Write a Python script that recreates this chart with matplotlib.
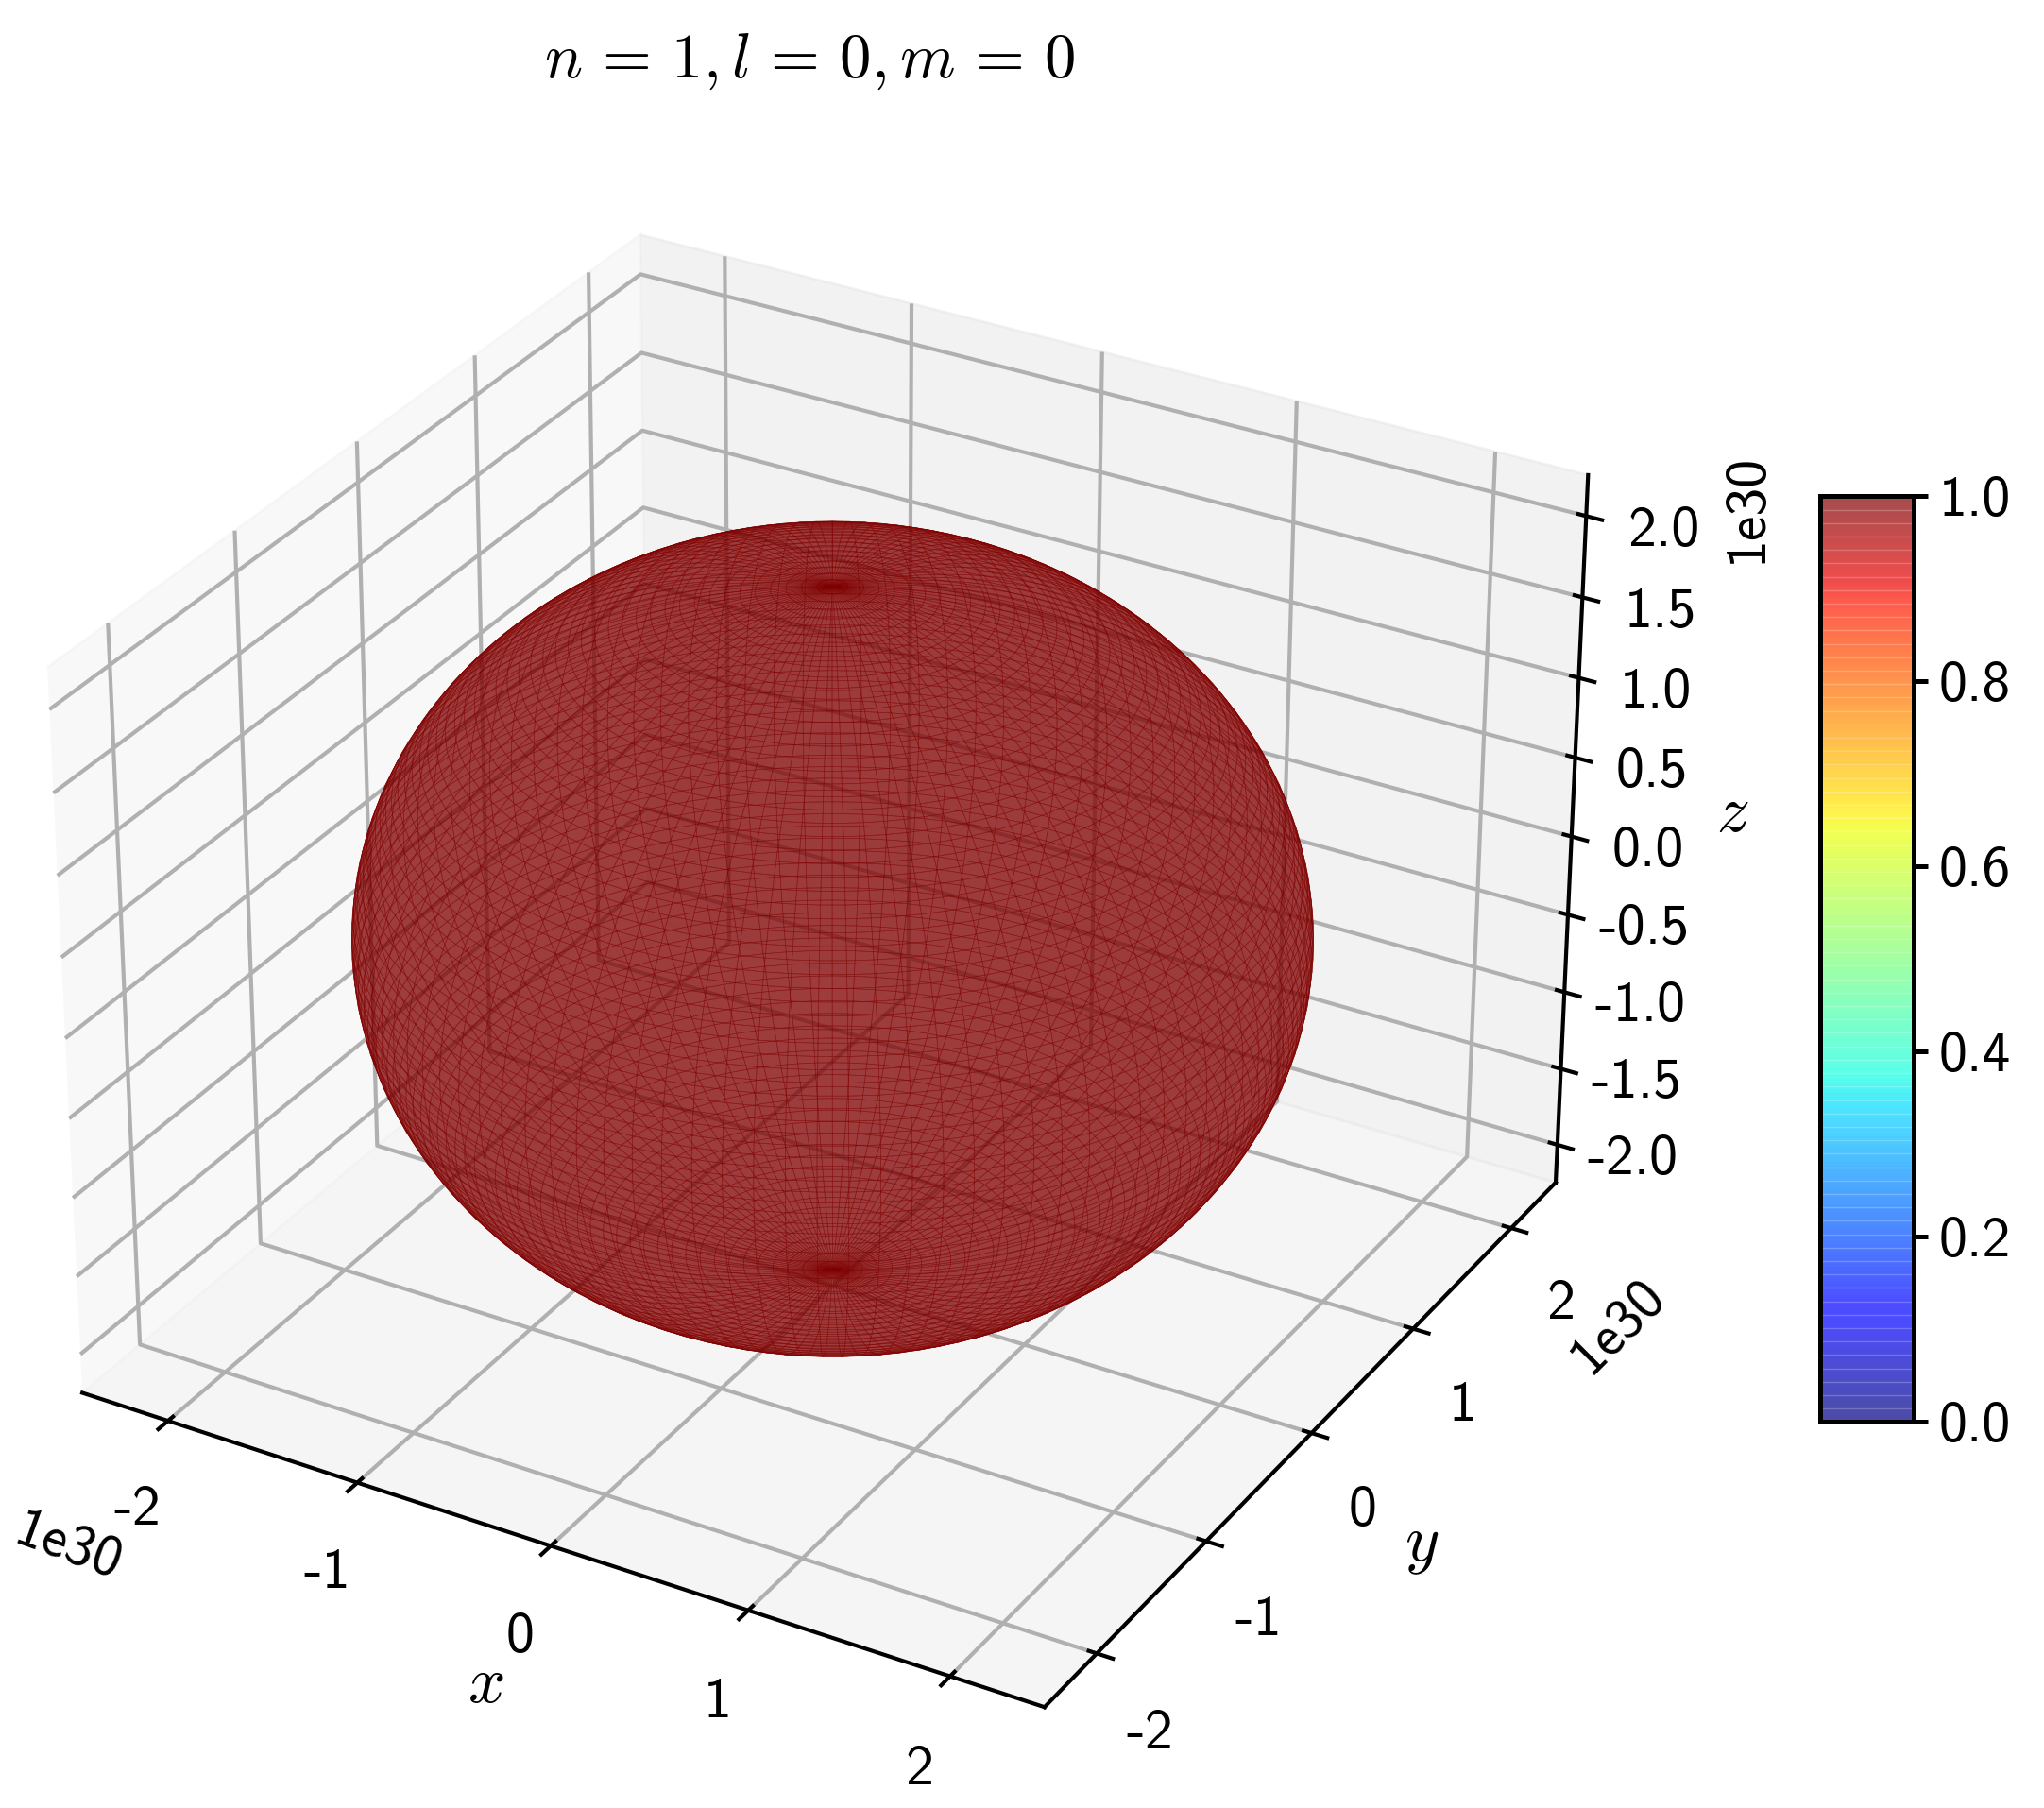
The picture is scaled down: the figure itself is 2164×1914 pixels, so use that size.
import numpy as np
import matplotlib
matplotlib.use("Agg")
import matplotlib.pyplot as plt
from matplotlib import cm
from matplotlib.colors import Normalize

plt.rcParams['font.family'] = ['cmss10', 'DejaVu Sans']
plt.rcParams['mathtext.fontset'] = 'cm'
plt.rcParams['axes.unicode_minus'] = False
plt.rcParams['axes.formatter.use_mathtext'] = False
plt.rcParams['grid.linewidth'] = 1.5
plt.rcParams['axes.linewidth'] = 1.5
plt.rcParams['xtick.major.width'] = 1.5
plt.rcParams['ytick.major.width'] = 1.5

radius = 2.145e30
x_ticks = [-2e30, -1e30, 0, 1e30, 2e30]
y_ticks = [-2e30, -1e30, 0, 1e30, 2e30]
z_ticks = [-2e30, -1.5e30, -1e30, -0.5e30, 0, 0.5e30, 1e30, 1.5e30, 2e30]
xy_labels = ['-2', '-1', '0', '1', '2']
z_labels = ['-2.0', '-1.5', '-1.0', '-0.5', '0.0', '0.5', '1.0', '1.5', '2.0']
cbar_ticks = [0.0, 0.2, 0.4, 0.6, 0.8, 1.0]
theta = np.linspace(0, np.pi, 100)
phi = np.linspace(0, 2 * np.pi, 100)

fig = plt.figure(figsize=(10.82, 9.57), dpi=200)
ax = fig.add_axes([-0.054, -0.004, 0.90, 0.9475], projection='3d')
T, P = np.meshgrid(theta, phi)
X = radius * np.sin(T) * np.cos(P)
Y = radius * np.sin(T) * np.sin(P)
Z = radius * np.cos(T)
surf = ax.plot_surface(X, Y, Z, rstride=1, cstride=1, color=cm.jet(1.0),
                       alpha=0.5, linewidth=0.22, edgecolor='#800000',
                       shade=False, antialiased=True)
ax.set_xlim(-2.46e30, 2.46e30)
ax.set_ylim(-2.465e30, 2.465e30)
ax.set_zlim(-2.25e30, 2.25e30)
ax.set_xticks(x_ticks, xy_labels)
ax.set_yticks(y_ticks, xy_labels)
ax.set_zticks(z_ticks, z_labels)
ax.tick_params(labelsize=21.5)
ax.tick_params(axis='x', pad=10)
ax.tick_params(axis='y', pad=10)
ax.tick_params(axis='z', pad=10)
ax.set_xlabel('$x$', fontsize=25, labelpad=17)
ax.set_ylabel('$y$', fontsize=25, labelpad=18)
ax.set_zlabel('$z$', fontsize=25, labelpad=17)
fig.text(0.0332, 0.144, '1e30', fontsize=21.5, rotation=-20, ha='center', va='center')
fig.text(0.792, 0.266, '1e30', fontsize=21.5, rotation=45, ha='center', va='center')
fig.text(0.855, 0.719, '1e30', fontsize=21.5, rotation=90, ha='center', va='center')
fig.text(0.396, 0.966, r'$n\,=\,1, l\,=\,0, m\,=\,0$', fontsize=24, ha='center', va='center')
cax = fig.add_axes([0.8905, 0.2135, 0.0455, 0.512])
sm = cm.ScalarMappable(norm=Normalize(0, 1), cmap='jet')
sm.set_array([])
cb = fig.colorbar(sm, cax=cax, alpha=0.7)
cb.set_ticks(cbar_ticks)
cb.ax.tick_params(labelsize=21.5, width=1.8, length=5.4, pad=4.5)
cb.outline.set_linewidth(1.8)
cb.ax.hlines(np.linspace(0.0, 1.0, 70)[1:-1], 0, 1, colors='white', alpha=0.22, linewidth=0.5)
fig.savefig('out.png', dpi=200)
